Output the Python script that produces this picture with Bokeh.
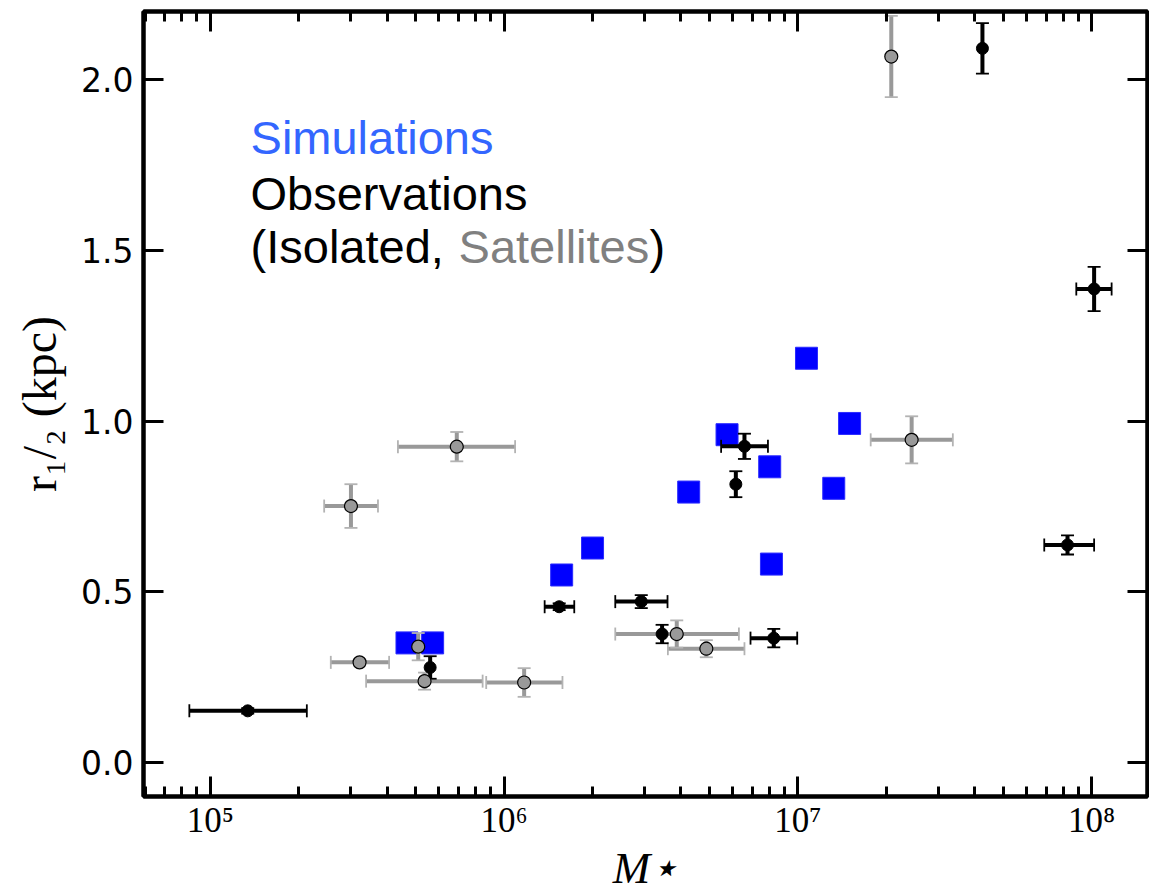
import math
from bokeh.plotting import figure
from bokeh.models import (ColumnDataSource, Whisker, TeeHead, Range1d, FixedTicker,
                          LogAxis, LinearAxis, CustomJSTickFormatter, NumeralTickFormatter, Label)
from bokeh.embed import file_html
from bokeh.resources import INLINE

# ---------------- data ----------------
# Simulations (blue squares)
sim_mass = [4.67e5, 5.71e5, 1.57e6, 2.0e6, 4.25e6, 5.74e6, 8.02e6, 8.13e6, 1.07e7, 1.50e7, 1.325e7]
sim_r = [0.350, 0.350, 0.549, 0.628, 0.792, 0.960, 0.866, 0.581, 1.184, 0.993, 0.803]

# Observations: isolated (black)
iso_mass = [1.34e5, 5.6e5, 1.54e6, 2.93e6, 3.45e6, 6.58e6, 6.15e6, 8.28e6, 4.25e7, 1.02e8, 8.28e7]
iso_r = [0.151, 0.278, 0.456, 0.471, 0.376, 0.926, 0.815, 0.364, 2.092, 1.387, 0.637]
iso_r_err = [0.008, 0.033, 0.010, 0.019, 0.027, 0.037, 0.038, 0.027, 0.074, 0.065, 0.028]
iso_mass_lo = [8.48e4, None, 1.374e6, 2.39e6, None, 5.48e6, None, 6.9e6, None, 8.87e7, 6.9e7]
iso_mass_hi = [2.13e5, None, 1.733e6, 3.6e6, None, 7.91e6, None, 9.95e6, None, 1.17e8, 1.02e8]

# Observations: satellites (grey)
sat_mass = [3.01e5, 6.9e5, 3.22e5, 5.1e5, 5.36e5, 1.17e6, 3.87e6, 4.88e6, 2.08e7, 2.44e7]
sat_r = [0.751, 0.925, 0.293, 0.339, 0.238, 0.234, 0.376, 0.333, 2.068, 0.945]
sat_r_err = [0.064, 0.043, 0.010, 0.040, 0.025, 0.042, 0.040, 0.025, 0.119, 0.069]
sat_mass_lo = [2.44e5, 4.35e5, 2.57e5, None, 3.39e5, 8.69e5, 2.39e6, 3.61e6, None, 1.77e7]
sat_mass_hi = [3.72e5, 1.09e6, 4.06e5, None, 8.45e5, 1.58e6, 6.3e6, 6.58e6, None, 3.37e7]

x_tick_vals = [1e5, 1e6, 1e7, 1e8]
x_tick_labels = ["10\u2075", "10\u2076", "10\u2077", "10\u2078"]
y_tick_vals = [0.0, 0.5, 1.0, 1.5, 2.0]

text_lines = ["Simulations", "Observations", "(Isolated, ", "Satellites", ")"]

# ---------------- colours / styles ----------------
BLUE = "#0000ff"
SIM_TEXT = "#3366ff"
GREY = "#999999"
GREY_CAP = "#b3b3b3"
SAT_TEXT = "#808080"

p = figure(width=1149, height=895, x_axis_type="log",
           x_range=Range1d(5.92e4, 1.55e8), y_range=Range1d(-0.1, 2.2),
           output_backend="svg", toolbar_location=None,
           min_border_left=143, min_border_right=2, min_border_top=11, min_border_bottom=99)
p.xgrid.visible = False
p.ygrid.visible = False
p.outline_line_color = "black"
p.outline_line_width = 4
p.background_fill_color = "white"
p.border_fill_color = "white"

minor_x = [m * 10 ** e for e in range(4, 8) for m in range(2, 10)]
x_ticker = FixedTicker(ticks=x_tick_vals, minor_ticks=minor_x)
y_ticker = FixedTicker(ticks=y_tick_vals, minor_ticks=[])

x_fmt = CustomJSTickFormatter(args=dict(vals=x_tick_vals, labels=x_tick_labels), code="""
const i = vals.findIndex(v => Math.abs(Math.log10(v) - Math.log10(tick)) < 1e-6);
return i >= 0 ? labels[i] : '';
""")
blank_fmt = CustomJSTickFormatter(code="return '';")


def style_axis(ax):
    ax.axis_line_width = 4
    ax.axis_line_color = "black"
    ax.major_tick_in = 20
    ax.major_tick_out = 0
    ax.minor_tick_in = 10
    ax.minor_tick_out = 0
    ax.major_tick_line_width = 3
    ax.minor_tick_line_width = 3
    ax.major_tick_line_color = "black"
    ax.minor_tick_line_color = "black"


# bottom axis
xa = p.xaxis[0]
xa.ticker = x_ticker
xa.formatter = x_fmt
style_axis(xa)
xa.major_label_text_font = "Liberation Serif"
xa.major_label_text_font_size = "35px"
xa.major_label_text_color = "black"
xa.major_label_standoff = 4
xa.axis_label = "M\u22c6"
xa.axis_label_text_font = "Liberation Serif"
xa.axis_label_text_font_style = "italic"
xa.axis_label_text_font_size = "45px"
xa.axis_label_text_color = "black"
xa.axis_label_standoff = 0

# left axis
ya = p.yaxis[0]
ya.ticker = y_ticker
ya.formatter = NumeralTickFormatter(format="0.0")
style_axis(ya)
ya.major_label_text_font = "DejaVu Sans"
ya.major_label_text_font_size = "33px"
ya.major_label_text_color = "black"
ya.major_label_standoff = 10
ya.axis_label = "r\u2081/\u2082 (kpc)"
ya.axis_label_text_font = "Liberation Serif"
ya.axis_label_text_font_style = "normal"
ya.axis_label_text_font_size = "48px"
ya.axis_label_text_color = "black"
ya.axis_label_standoff = 12

# mirrored axes (ticks only)
top = LogAxis(ticker=x_ticker, formatter=blank_fmt)
style_axis(top)
top.major_label_standoff = 0
top.major_label_text_font_size = "1px"
p.add_layout(top, "above")

right = LinearAxis(ticker=y_ticker, formatter=blank_fmt)
style_axis(right)
right.major_label_standoff = 0
right.major_label_text_font_size = "1px"
p.add_layout(right, "right")

# ---------------- glyphs ----------------
# simulations
p.scatter(sim_mass, sim_r, marker="square", size=22, fill_color=BLUE,
          line_color="#2a2aff", line_width=1, level="image")


def xerr_source(mass, r, lo, hi):
    keep = [i for i in range(len(mass)) if lo[i] is not None]
    return ColumnDataSource(dict(y=[r[i] for i in keep],
                                 lo=[lo[i] for i in keep],
                                 hi=[hi[i] for i in keep]))


def yerr_source(mass, r, err):
    return ColumnDataSource(dict(x=list(mass),
                                 lo=[r[i] - err[i] for i in range(len(r))],
                                 hi=[r[i] + err[i] for i in range(len(r))]))


def add_errorbars(mass, r, err, lo, hi, color, cap_color):
    xs = xerr_source(mass, r, lo, hi)
    ys = yerr_source(mass, r, err)
    for src, base, dim in ((xs, "y", "width"), (ys, "x", "height")):
        w = Whisker(source=src, base=base, lower="lo", upper="hi", dimension=dim,
                    line_color=color, line_width=4, level="underlay",
                    lower_head=TeeHead(size=13, line_color=cap_color, line_width=1.8),
                    upper_head=TeeHead(size=13, line_color=cap_color, line_width=1.8))
        p.add_layout(w)


add_errorbars(sat_mass, sat_r, sat_r_err, sat_mass_lo, sat_mass_hi, GREY, GREY_CAP)
add_errorbars(iso_mass, iso_r, iso_r_err, iso_mass_lo, iso_mass_hi, "black", "black")

p.scatter(sat_mass, sat_r, marker="circle", size=13, fill_color=GREY,
          line_color="black", line_width=1.2)
p.scatter(iso_mass, iso_r, marker="circle", size=12, fill_color="black",
          line_color="black", line_width=1)

# ---------------- text ----------------
common = dict(text_font="Liberation Sans", text_font_size="47px", text_baseline="alphabetic",
              text_align="left")
p.add_layout(Label(x=1.37e5, y=1.832, text=text_lines[0], text_color=SIM_TEXT, **common))
p.add_layout(Label(x=1.37e5, y=1.667, text=text_lines[1], text_color="black", **common))
p.add_layout(Label(x=1.37e5, y=1.511, text=text_lines[2], text_color="black", **common))
p.add_layout(Label(x=1.37e5, y=1.511, x_offset=208, text=text_lines[3], text_color=SAT_TEXT, **common))
p.add_layout(Label(x=1.37e5, y=1.511, x_offset=399, text=text_lines[4], text_color="black", **common))

open("out.html", "w").write(file_html(p, INLINE))
